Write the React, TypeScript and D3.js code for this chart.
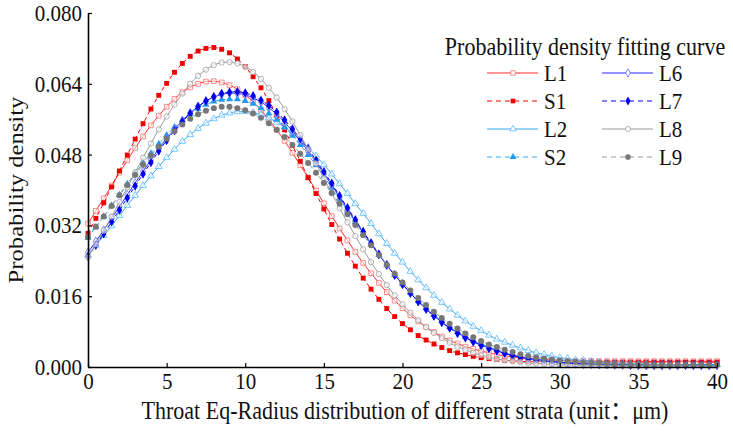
import React, { useEffect, useRef } from "react";
import * as d3 from "d3";

// throat equivalent radius grid (um), step 0.5
const radius = d3.range(0, 40.5, 0.5);

const L1 = [
  0.0324, 0.0353, 0.0381, 0.0410, 0.0439, 0.0467, 0.0495, 0.0521, 0.0546, 0.0568,
  0.0588, 0.0606, 0.0621, 0.0632, 0.0640, 0.0645, 0.0646, 0.0643, 0.0637, 0.0628,
  0.0615, 0.0599, 0.0581, 0.0559, 0.0536, 0.0511, 0.0484, 0.0456, 0.0428, 0.0399,
  0.0370, 0.0341, 0.0313, 0.0286, 0.0260, 0.0235, 0.0212, 0.0190, 0.0169, 0.0150,
  0.0133, 0.0117, 0.0103, 0.0090, 0.0079, 0.0069, 0.0060, 0.0053, 0.0046, 0.0041,
  0.0036, 0.0032, 0.0028, 0.0025, 0.0023, 0.0021, 0.0019, 0.0018, 0.0017, 0.0016,
  0.0015, 0.0015, 0.0014, 0.0014, 0.0014, 0.0013, 0.0013, 0.0013, 0.0013, 0.0013,
  0.0013, 0.0013, 0.0013, 0.0013, 0.0013, 0.0013, 0.0013, 0.0013, 0.0013, 0.0013,
  0.0013,
];
const S1 = [
  0.0302, 0.0336, 0.0371, 0.0407, 0.0443, 0.0479, 0.0515, 0.0550, 0.0583, 0.0614,
  0.0641, 0.0666, 0.0686, 0.0702, 0.0714, 0.0720, 0.0722, 0.0718, 0.0710, 0.0696,
  0.0679, 0.0656, 0.0631, 0.0602, 0.0570, 0.0536, 0.0501, 0.0465, 0.0428, 0.0392,
  0.0357, 0.0322, 0.0289, 0.0257, 0.0228, 0.0201, 0.0176, 0.0153, 0.0132, 0.0114,
  0.0098, 0.0084, 0.0071, 0.0061, 0.0052, 0.0044, 0.0037, 0.0032, 0.0028, 0.0024,
  0.0021, 0.0019, 0.0017, 0.0015, 0.0014, 0.0013, 0.0012, 0.0012, 0.0012, 0.0011,
  0.0011, 0.0011, 0.0011, 0.0011, 0.0011, 0.0011, 0.0011, 0.0011, 0.0011, 0.0011,
  0.0011, 0.0011, 0.0011, 0.0011, 0.0011, 0.0011, 0.0011, 0.0011, 0.0011, 0.0011,
  0.0011,
];
const L2 = [
  0.0253, 0.0275, 0.0297, 0.0319, 0.0342, 0.0365, 0.0388, 0.0410, 0.0432, 0.0453,
  0.0473, 0.0492, 0.0510, 0.0525, 0.0539, 0.0551, 0.0561, 0.0569, 0.0574, 0.0577,
  0.0577, 0.0575, 0.0570, 0.0563, 0.0553, 0.0542, 0.0528, 0.0513, 0.0496, 0.0477,
  0.0457, 0.0436, 0.0414, 0.0392, 0.0369, 0.0347, 0.0324, 0.0301, 0.0279, 0.0257,
  0.0237, 0.0216, 0.0197, 0.0179, 0.0162, 0.0146, 0.0131, 0.0117, 0.0104, 0.0092,
  0.0082, 0.0072, 0.0063, 0.0056, 0.0049, 0.0043, 0.0037, 0.0032, 0.0028, 0.0025,
  0.0021, 0.0019, 0.0016, 0.0015, 0.0013, 0.0011, 0.0010, 0.0009, 0.0009, 0.0008,
  0.0007, 0.0007, 0.0006, 0.0006, 0.0006, 0.0005, 0.0005, 0.0005, 0.0005, 0.0005,
  0.0005,
];
const S2 = [
  0.0292, 0.0316, 0.0340, 0.0365, 0.0389, 0.0414, 0.0438, 0.0461, 0.0483, 0.0504,
  0.0524, 0.0542, 0.0558, 0.0572, 0.0584, 0.0593, 0.0600, 0.0604, 0.0605, 0.0605,
  0.0601, 0.0595, 0.0585, 0.0573, 0.0559, 0.0542, 0.0523, 0.0502, 0.0479, 0.0456,
  0.0431, 0.0405, 0.0379, 0.0353, 0.0328, 0.0302, 0.0277, 0.0253, 0.0230, 0.0208,
  0.0188, 0.0168, 0.0150, 0.0133, 0.0118, 0.0104, 0.0091, 0.0079, 0.0069, 0.0060,
  0.0052, 0.0045, 0.0039, 0.0033, 0.0029, 0.0025, 0.0021, 0.0018, 0.0016, 0.0014,
  0.0012, 0.0011, 0.0010, 0.0009, 0.0008, 0.0007, 0.0007, 0.0006, 0.0006, 0.0006,
  0.0005, 0.0005, 0.0005, 0.0005, 0.0005, 0.0005, 0.0005, 0.0005, 0.0005, 0.0005,
  0.0005,
];
const L6 = [
  0.0259, 0.0284, 0.0309, 0.0336, 0.0362, 0.0389, 0.0416, 0.0442, 0.0468, 0.0493,
  0.0516, 0.0537, 0.0557, 0.0574, 0.0589, 0.0601, 0.0610, 0.0616, 0.0619, 0.0618,
  0.0615, 0.0608, 0.0599, 0.0586, 0.0571, 0.0553, 0.0533, 0.0511, 0.0488, 0.0463,
  0.0437, 0.0411, 0.0384, 0.0357, 0.0330, 0.0304, 0.0279, 0.0254, 0.0230, 0.0208,
  0.0187, 0.0167, 0.0148, 0.0131, 0.0116, 0.0101, 0.0089, 0.0077, 0.0067, 0.0058,
  0.0050, 0.0043, 0.0037, 0.0031, 0.0027, 0.0023, 0.0019, 0.0017, 0.0014, 0.0012,
  0.0011, 0.0009, 0.0008, 0.0007, 0.0007, 0.0006, 0.0006, 0.0005, 0.0005, 0.0004,
  0.0004, 0.0004, 0.0004, 0.0004, 0.0004, 0.0004, 0.0004, 0.0004, 0.0004, 0.0004,
  0.0004,
];
const L7 = [
  0.0250, 0.0275, 0.0301, 0.0328, 0.0355, 0.0382, 0.0409, 0.0436, 0.0462, 0.0488,
  0.0512, 0.0534, 0.0554, 0.0573, 0.0588, 0.0601, 0.0611, 0.0618, 0.0621, 0.0622,
  0.0619, 0.0613, 0.0603, 0.0591, 0.0576, 0.0558, 0.0538, 0.0516, 0.0493, 0.0467,
  0.0441, 0.0415, 0.0387, 0.0360, 0.0333, 0.0306, 0.0280, 0.0255, 0.0231, 0.0208,
  0.0187, 0.0167, 0.0148, 0.0131, 0.0115, 0.0101, 0.0088, 0.0076, 0.0066, 0.0057,
  0.0049, 0.0042, 0.0036, 0.0031, 0.0026, 0.0022, 0.0019, 0.0016, 0.0014, 0.0012,
  0.0010, 0.0009, 0.0008, 0.0007, 0.0007, 0.0006, 0.0006, 0.0005, 0.0005, 0.0004,
  0.0004, 0.0004, 0.0004, 0.0004, 0.0004, 0.0004, 0.0004, 0.0004, 0.0004, 0.0004,
  0.0004,
];
const L8 = [
  0.0248, 0.0277, 0.0308, 0.0340, 0.0373, 0.0406, 0.0440, 0.0473, 0.0505, 0.0537,
  0.0566, 0.0593, 0.0618, 0.0640, 0.0658, 0.0672, 0.0682, 0.0688, 0.0689, 0.0686,
  0.0678, 0.0667, 0.0651, 0.0631, 0.0609, 0.0583, 0.0555, 0.0524, 0.0492, 0.0460,
  0.0426, 0.0393, 0.0359, 0.0327, 0.0296, 0.0266, 0.0237, 0.0210, 0.0185, 0.0162,
  0.0142, 0.0123, 0.0106, 0.0090, 0.0077, 0.0065, 0.0055, 0.0046, 0.0039, 0.0032,
  0.0027, 0.0022, 0.0018, 0.0015, 0.0013, 0.0011, 0.0009, 0.0008, 0.0007, 0.0006,
  0.0005, 0.0005, 0.0004, 0.0004, 0.0004, 0.0004, 0.0003, 0.0003, 0.0003, 0.0003,
  0.0003, 0.0003, 0.0003, 0.0003, 0.0003, 0.0003, 0.0003, 0.0003, 0.0003, 0.0003,
  0.0003,
];
const L9 = [
  0.0293, 0.0317, 0.0340, 0.0364, 0.0388, 0.0411, 0.0434, 0.0457, 0.0478, 0.0498,
  0.0516, 0.0533, 0.0548, 0.0561, 0.0571, 0.0579, 0.0585, 0.0588, 0.0588, 0.0585,
  0.0580, 0.0573, 0.0563, 0.0551, 0.0536, 0.0520, 0.0502, 0.0482, 0.0461, 0.0439,
  0.0416, 0.0393, 0.0369, 0.0345, 0.0321, 0.0298, 0.0275, 0.0253, 0.0231, 0.0211,
  0.0191, 0.0173, 0.0156, 0.0140, 0.0125, 0.0111, 0.0098, 0.0087, 0.0076, 0.0067,
  0.0059, 0.0051, 0.0045, 0.0039, 0.0034, 0.0029, 0.0025, 0.0022, 0.0019, 0.0017,
  0.0015, 0.0013, 0.0012, 0.0010, 0.0009, 0.0009, 0.0008, 0.0007, 0.0007, 0.0006,
  0.0006, 0.0006, 0.0005, 0.0005, 0.0005, 0.0005, 0.0005, 0.0005, 0.0005, 0.0005,
  0.0005,
];

const xTicks = [0, 5, 10, 15, 20, 25, 30, 35, 40];
const yTicks = [0, 0.016, 0.032, 0.048, 0.064, 0.08];

const series = [
  { name: "L1", values: L1, line: "#ff2a2a", mark: "#ff7070", dash: null, sym: d3.symbolSquare, filled: false, size: 22 },
  { name: "S1", values: S1, line: "#ff0000", mark: "#f00000", dash: "4,3", sym: d3.symbolSquare, filled: true, size: 24 },
  { name: "L2", values: L2, line: "#35a8f5", mark: "#5cbaf7", dash: null, sym: d3.symbolTriangle, filled: false, size: 20 },
  { name: "S2", values: S2, line: "#35a8f5", mark: "#1c9cf0", dash: "4,3", sym: d3.symbolTriangle, filled: true, size: 22 },
  { name: "L6", values: L6, line: "#2828ff", mark: "#6060ff", dash: null, sym: d3.symbolDiamond, filled: false, size: 22 },
  { name: "L7", values: L7, line: "#0000ff", mark: "#0000f0", dash: "4,3", sym: d3.symbolDiamond, filled: true, size: 26 },
  { name: "L8", values: L8, line: "#999999", mark: "#a0a0a0", dash: null, sym: d3.symbolCircle, filled: false, size: 22 },
  { name: "L9", values: L9, line: "#9a9a9a", mark: "#777777", dash: "4,3", sym: d3.symbolCircle, filled: true, size: 28 },
];

const W = 733;
const H = 435;
const m = { top: 13, right: 16, bottom: 68, left: 88 };
const FONT = "'Liberation Serif', 'Times New Roman', 'Noto Sans CJK SC', serif";
const VS = 1.12; // the original figure is a little stretched vertically

const App = () => {
  const svgRef = useRef<SVGSVGElement | null>(null);

  useEffect(() => {
    const svg = d3.select(svgRef.current);
    svg.selectAll("*").remove();

    const x = d3.scaleLinear().domain([0, 40]).range([m.left, W - m.right]);
    const y = d3.scaleLinear().domain([0, 0.08]).range([H - m.bottom, m.top]);

    // curves
    const line = d3
      .line<number>()
      .x((d, i) => x(radius[i]))
      .y((d) => y(d))
      .curve(d3.curveMonotoneX);

    const plot = svg.append("g");
    series.forEach((s) => {
      const g = plot.append("g");
      g.append("path")
        .attr("d", line(s.values))
        .attr("fill", "none")
        .attr("stroke", s.line)
        .attr("stroke-width", 1)
        .attr("stroke-dasharray", s.dash);
      const sym = d3.symbol().type(s.sym).size(s.size);
      g.selectAll("path.pt")
        .data(s.values)
        .enter()
        .append("path")
        .attr("class", "pt")
        .attr("d", sym)
        .attr("transform", (d, i) => `translate(${x(radius[i])},${y(d)})`)
        .attr("fill", s.filled ? s.mark : "#fff")
        .attr("fill-opacity", s.filled ? 1 : 0.6)
        .attr("stroke", s.mark)
        .attr("stroke-width", s.filled ? 0 : 0.8);
    });

    // axes
    const xAxis = svg
      .append("g")
      .attr("transform", `translate(0,${H - m.bottom})`)
      .call(
        d3.axisBottom(x).tickValues(xTicks).tickSizeInner(-4).tickSizeOuter(0).tickPadding(5)
      );
    const yAxis = svg
      .append("g")
      .attr("transform", `translate(${m.left},0)`)
      .call(
        d3
          .axisLeft(y)
          .tickValues(yTicks)
          .tickFormat(d3.format(".3f"))
          .tickSizeInner(-4)
          .tickSizeOuter(0)
          .tickPadding(6)
      );
    [xAxis, yAxis].forEach((a) => {
      a.select(".domain").attr("stroke", "#000").attr("stroke-width", 1.6);
      a.selectAll(".tick line").attr("stroke", "#000").attr("stroke-width", 1.2);
      a.selectAll("text")
        .attr("fill", "#111")
        .style("font-family", FONT)
        .style("font-size", "21px")
        .attr("transform", `scale(1,${VS})`);
    });

    // axis titles
    svg
      .append("text")
      .attr("transform", `translate(405,410) scale(1,${VS})`)
      .attr("text-anchor", "middle")
      .attr("dy", "0.35em")
      .style("font-family", FONT)
      .style("font-size", "22px")
      .attr("fill", "#111")
      .text("Throat Eq-Radius distribution of different strata (unit：μm)");

    svg
      .append("text")
      .attr("transform", `translate(15,190) scale(1,${VS}) rotate(-90)`)
      .attr("text-anchor", "middle")
      .attr("dy", "0.35em")
      .style("font-family", FONT)
      .style("font-size", "22px")
      .attr("fill", "#111")
      .text("Probability density");

    // legend
    const legend = svg.append("g");
    legend
      .append("text")
      .attr("transform", `translate(585,46) scale(1,${VS})`)
      .attr("text-anchor", "middle")
      .attr("dy", "0.35em")
      .style("font-family", FONT)
      .style("font-size", "22px")
      .attr("fill", "#111")
      .text("Probability density fitting curve");

    const colX = [487, 602];
    series.forEach((s, i) => {
      const cx = colX[Math.floor(i / 4)];
      const cy = 73 + (i % 4) * 28;
      const item = legend.append("g").attr("transform", `translate(${cx},${cy})`);
      item
        .append("line")
        .attr("x1", 0)
        .attr("x2", 51)
        .attr("stroke", s.line)
        .attr("stroke-width", 1)
        .attr("stroke-dasharray", s.dash ? "5,4" : null);
      item
        .append("path")
        .attr("d", d3.symbol().type(s.sym).size(s.size * 0.9)())
        .attr("transform", "translate(26,0)")
        .attr("fill", s.filled ? s.mark : "#fff")
        .attr("stroke", s.mark)
        .attr("stroke-width", s.filled ? 0 : 0.8);
      item
        .append("text")
        .attr("x", 57)
        .attr("transform", `scale(1,${VS})`)
        .attr("dy", "0.35em")
        .style("font-family", FONT)
        .style("font-size", "21px")
        .attr("fill", "#111")
        .text(s.name);
    });
  }, []);

  return (
    <svg
      ref={svgRef}
      width={W}
      height={H}
      style={{ position: "absolute", left: 0, top: 0, background: "#fff" }}
    ></svg>
  );
};

export default App;
